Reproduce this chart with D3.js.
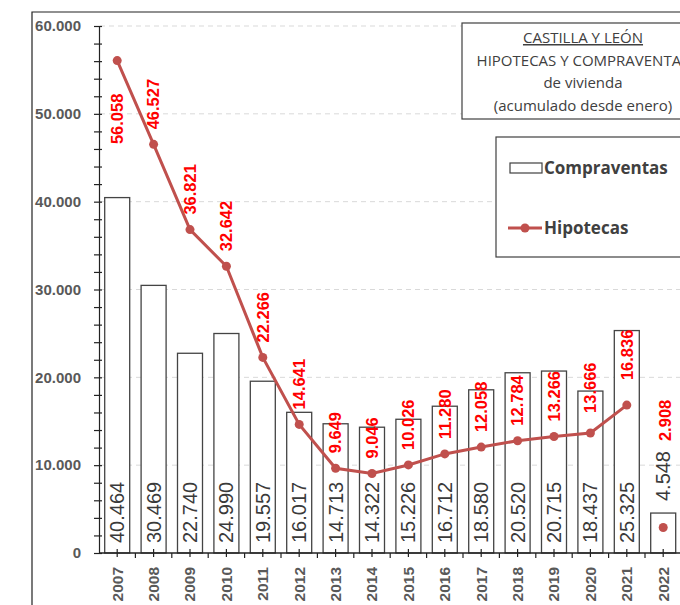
<!DOCTYPE html>
<html><head><meta charset="utf-8">
<script src="https://cdn.jsdelivr.net/npm/d3@7"></script>
<style>html,body{margin:0;padding:0;background:#fff;}svg{display:block;}</style>
</head><body>
<svg id="chart" width="680" height="605"></svg>
<script>
const years = ["2007","2008","2009","2010","2011","2012","2013","2014","2015","2016","2017","2018","2019","2020","2021","2022"];
const compraventas = [40464,30469,22740,24990,19557,16017,14713,14322,15226,16712,18580,20520,20715,18437,25325,4548];
const hipotecas = [56058,46527,36821,32642,22266,14641,9649,9046,10026,11280,12058,12784,13266,13666,16836,2908];
const yTicks = [0,10000,20000,30000,40000,50000,60000];
const titleLines = ["CASTILLA Y LEÓN","HIPOTECAS Y COMPRAVENTAS","de vivienda","(acumulado desde enero)"];
const legendLabels = ["Compraventas","Hipotecas"];

const fmt = v => d3.format(",")(v).replace(/,/g, ".");
const svg = d3.select("#chart");
const lineColor = "#c0504d";
const font = "'Liberation Sans', Arial, sans-serif";

const x = d3.scaleBand().domain(years).range([99, 99 + 16 * 36.4]).padding(0);
const y = d3.scaleLinear().domain([0, 60000]).range([553, 26]);
const bw = x.bandwidth();
const cx = d => x(d) + bw / 2;

// outer frame
svg.append("path").attr("d", "M32,605V12H680").attr("fill", "none").attr("stroke", "#222").attr("stroke-width", 1.2);

// gridlines
svg.append("g").selectAll("line").data(yTicks.filter(d => d > 0)).join("line")
  .attr("x1", 100).attr("x2", 680).attr("y1", d => y(d)).attr("y2", d => y(d))
  .attr("stroke", "#d9d9d9").attr("stroke-dasharray", "5,4");

// bars
svg.append("g").selectAll("rect").data(years).join("rect")
  .attr("x", (d) => cx(d) - 12.5).attr("width", 25)
  .attr("y", (d, i) => y(compraventas[i])).attr("height", (d, i) => y(0) - y(compraventas[i]))
  .attr("fill", "#fff").attr("stroke", "#444").attr("stroke-width", 1.3);

// y axis
const yAxis = d3.axisLeft(y).tickValues(d3.range(0, 60001, 2000)).tickSize(5)
  .tickFormat(d => d % 10000 === 0 ? fmt(d) : "");
const gy = svg.append("g").attr("transform", "translate(99,0)").call(yAxis);
gy.select(".domain").attr("stroke", "#222").attr("stroke-width", 1.2);
gy.selectAll(".tick line").attr("x1", 3).attr("x2", -5).attr("stroke", "#222").attr("stroke-width", 1.2);
gy.selectAll(".tick text").attr("x", -18).attr("font-family", font).attr("font-size", 15)
  .attr("font-weight", "bold").attr("fill", "#595959");

// x axis
const gx = svg.append("g").attr("transform", `translate(0,${y(0)})`);
gx.append("line").attr("x1", 99).attr("x2", 680).attr("stroke", "#222").attr("stroke-width", 1.4);
gx.selectAll("line.c").data(years).join("line").attr("class", "c")
  .attr("x1", cx).attr("x2", cx).attr("y1", -4).attr("y2", 4).attr("stroke", "#222").attr("stroke-width", 1.2);
gx.selectAll("line.s").data(years.slice(1)).join("line").attr("class", "s")
  .attr("x1", d => x(d)).attr("x2", d => x(d)).attr("y1", 0).attr("y2", 5).attr("stroke", "#222").attr("stroke-width", 1.2);
gx.selectAll("text").data(years).join("text")
  .attr("transform", d => `translate(${cx(d)},14) rotate(-90)`).attr("dy", "0.35em")
  .attr("text-anchor", "end").attr("font-family", font).attr("font-size", 15.5)
  .attr("font-weight", "bold").attr("fill", "#595959").text(d => d);

// bar labels
const barLabelSize = 20;
const barLabelPos = years.map((d, i) => {
  const h = y(0) - y(compraventas[i]);
  const len = fmt(compraventas[i]).length * 0.5 * barLabelSize;
  return h < len + 20 ? y(compraventas[i]) - 12 : y(0) - 10;
});
svg.append("g").selectAll("text").data(years).join("text")
  .attr("transform", (d, i) => `translate(${cx(d)},${barLabelPos[i]}) rotate(-90)`).attr("dy", "0.35em")
  .attr("font-family", font).attr("font-size", barLabelSize).attr("fill", "#3a3a3a")
  .text((d, i) => fmt(compraventas[i]));

// line (connected 2007-2021), 2022 separate point
const lineIdx = d3.range(0, 15);
svg.append("path").datum(lineIdx)
  .attr("d", d3.line().x(i => cx(years[i])).y(i => y(hipotecas[i])))
  .attr("fill", "none").attr("stroke", lineColor).attr("stroke-width", 3);
svg.append("g").selectAll("circle").data(years).join("circle")
  .attr("cx", cx).attr("cy", (d, i) => y(hipotecas[i])).attr("r", 4.5).attr("fill", lineColor);

// line labels
const hLabelSize = 16.5;
svg.append("g").selectAll("text").data(years).join("text")
  .attr("transform", (d, i) => {
    const py = y(hipotecas[i]);
    const len = fmt(hipotecas[i]).length * 0.52 * hLabelSize;
    let start = py - 15;
    if (i >= 13 && i < 15) start = py - 15 - (i - 12) * 5;       // nudged clear of bar tops
    if (start - len < y(60000)) start = py + 32 + len;          // no room above: place below
    const bl = barLabelPos[i] - fmt(compraventas[i]).length * 0.5 * barLabelSize;
    if (start > bl - 6 && barLabelPos[i] < y(0) - 10) start = bl - 10; // above raised bar label
    return `translate(${cx(d) + (i === 15 ? 2 : 0)},${start}) rotate(-90)`;
  }).attr("dy", "0.35em")
  .attr("font-family", font).attr("font-size", hLabelSize).attr("font-weight", "bold").attr("fill", "#ff0000")
  .text((d, i) => fmt(hipotecas[i]));

// title box
svg.append("rect").attr("x", 462).attr("y", 23).attr("width", 240).attr("height", 96)
  .attr("fill", "#fff").attr("stroke", "#404040").attr("stroke-width", 1.2);
const tf = "'Open Sans', sans-serif";
svg.append("g").selectAll("text").data(titleLines).join("text")
  .attr("x", 583).attr("y", (d, i) => 43 + i * 22.7).attr("text-anchor", "middle")
  .attr("font-family", tf).attr("font-size", 15).attr("fill", "#404040")
  .attr("text-decoration", (d, i) => i === 0 ? "underline" : null).text(d => d);

// legend
svg.append("rect").attr("x", 496).attr("y", 137).attr("width", 240).attr("height", 120)
  .attr("fill", "#fff").attr("stroke", "#404040").attr("stroke-width", 1.2);
svg.append("rect").attr("x", 510).attr("y", 163).attr("width", 32).attr("height", 10)
  .attr("fill", "#fff").attr("stroke", "#404040").attr("stroke-width", 1.2);
svg.append("line").attr("x1", 508).attr("x2", 542).attr("y1", 228).attr("y2", 228)
  .attr("stroke", lineColor).attr("stroke-width", 3);
svg.append("circle").attr("cx", 525).attr("cy", 228).attr("r", 4.5).attr("fill", lineColor);
svg.append("g").selectAll("text").data(legendLabels).join("text")
  .attr("x", 544).attr("y", (d, i) => 168 + i * 60).attr("dy", "0.35em")
  .attr("font-family", tf).attr("font-size", 17).attr("font-weight", "bold").attr("fill", "#404040")
  .text(d => d);
</script>
</body></html>
